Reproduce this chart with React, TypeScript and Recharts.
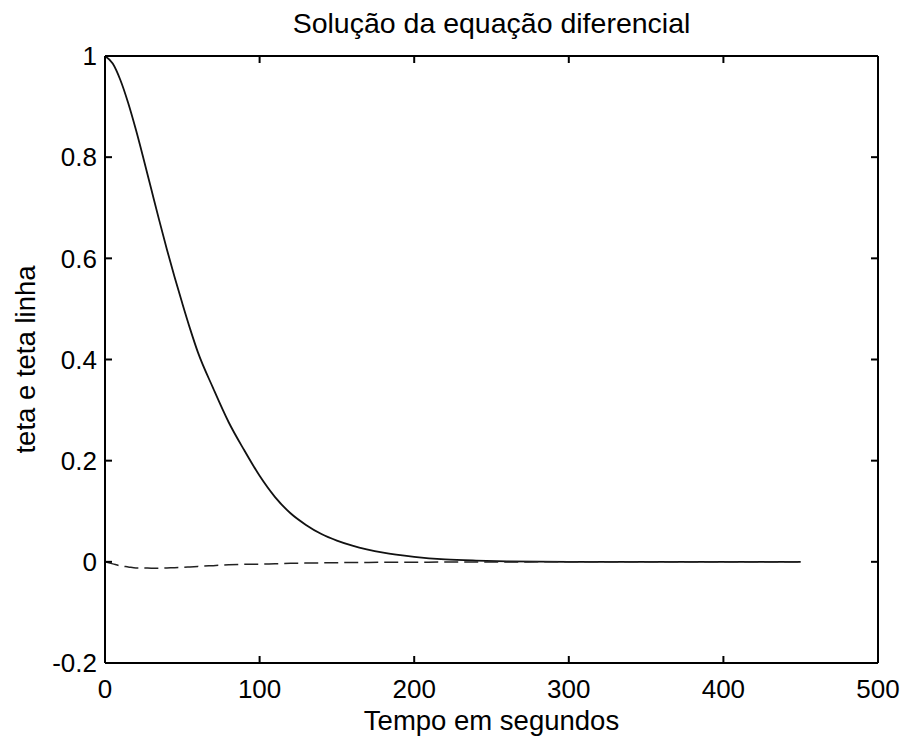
import React from "react";
import { LineChart, Line, XAxis, YAxis, Label } from "recharts";

// leitura do gráfico original (tempo em segundos)
const tempo = [0, 5, 10, 15, 20, 25, 30, 35, 40, 45, 50, 55, 60, 70, 80, 90, 100, 110, 120, 130, 140, 150, 160, 180, 200, 220, 240, 260, 300, 350, 400, 450];
const teta = [1.0, 0.985, 0.952, 0.907, 0.854, 0.796, 0.736, 0.676, 0.618, 0.563, 0.511, 0.461, 0.415, 0.343, 0.276, 0.221, 0.17, 0.128, 0.096, 0.073, 0.055, 0.042, 0.032, 0.018, 0.01, 0.005, 0.0025, 0.001, 0, 0, 0, 0];
const tetaLinha = [0, -0.004, -0.008, -0.01, -0.012, -0.012, -0.0125, -0.0125, -0.012, -0.0115, -0.011, -0.01, -0.009, -0.0075, -0.006, -0.005, -0.0045, -0.0038, -0.003, -0.0025, -0.002, -0.0017, -0.0014, -0.001, -0.0007, -0.0005, -0.0003, -0.0002, 0, 0, 0, 0];

const xTicks = [0, 100, 200, 300, 400, 500];
const yTicks = [-0.2, 0, 0.2, 0.4, 0.6, 0.8, 1];

const titulo = "Solução da equação diferencial";
const rotuloX = "Tempo em segundos";
const rotuloY = "teta e teta linha";

const data = tempo.map((t, i) => ({ t, teta: teta[i], tetaLinha: tetaLinha[i] }));

const font = "'Liberation Sans', Arial, sans-serif";
const tickStyle = { fontSize: 26, fill: "#000", fontFamily: font };
const labelStyle = { fontSize: 27.5, fill: "#000", fontFamily: font };

export default function App() {
  return (
    <div style={{ position: "absolute", left: 0, top: 0, background: "#fff" }}>
      <LineChart width={904} height={738} data={data} margin={{ top: 26, right: 0, bottom: 0, left: 0 }}>
        <XAxis
          xAxisId="b"
          dataKey="t"
          type="number"
          domain={[0, 500]}
          ticks={xTicks}
          height={75}
          stroke="#000"
          strokeWidth={2}
          tickSize={-7}
          tickMargin={24}
          tick={tickStyle}
        >
          <Label value={rotuloX} position="insideBottom" offset={8} style={labelStyle} />
        </XAxis>
        <XAxis
          xAxisId="top"
          orientation="top"
          dataKey="t"
          type="number"
          domain={[0, 500]}
          ticks={xTicks}
          height={30}
          stroke="#000"
          strokeWidth={2}
          tickSize={-7}
          tickFormatter={() => ""}
        >
          <Label value={titulo} position="top" offset={-7} style={{ fontSize: 28.5, fill: "#000", fontFamily: font }} />
        </XAxis>
        <YAxis
          yAxisId="l"
          type="number"
          domain={[-0.2, 1]}
          ticks={yTicks}
          width={105}
          stroke="#000"
          strokeWidth={2}
          tickSize={-7}
          tickMargin={15}
          tick={tickStyle}
        >
          <Label
            content={(props: any) => {
              const vb = props.viewBox || { x: 0, y: 56, width: 105, height: 607 };
              const cx = vb.x + 25;
              const cy = vb.y + vb.height / 2;
              return (
                <text
                  x={cx}
                  y={cy}
                  transform={`rotate(-90 ${cx} ${cy})`}
                  textAnchor="middle"
                  dominantBaseline="central"
                  style={labelStyle}
                >
                  {rotuloY}
                </text>
              );
            }}
          />
        </YAxis>
        <YAxis
          yAxisId="r"
          orientation="right"
          type="number"
          domain={[-0.2, 1]}
          ticks={yTicks}
          width={26}
          stroke="#000"
          strokeWidth={2}
          tickSize={-7}
          tickFormatter={() => ""}
        />
        <Line
          xAxisId="b"
          yAxisId="l"
          type="monotone"
          dataKey="teta"
          stroke="#111"
          strokeWidth={1.8}
          dot={false}
          isAnimationActive={false}
        />
        <Line
          xAxisId="top"
          yAxisId="r"
          type="monotone"
          dataKey="tetaLinha"
          stroke="#222"
          strokeWidth={1.5}
          strokeDasharray="14 6"
          dot={false}
          isAnimationActive={false}
        />
      </LineChart>
    </div>
  );
}
